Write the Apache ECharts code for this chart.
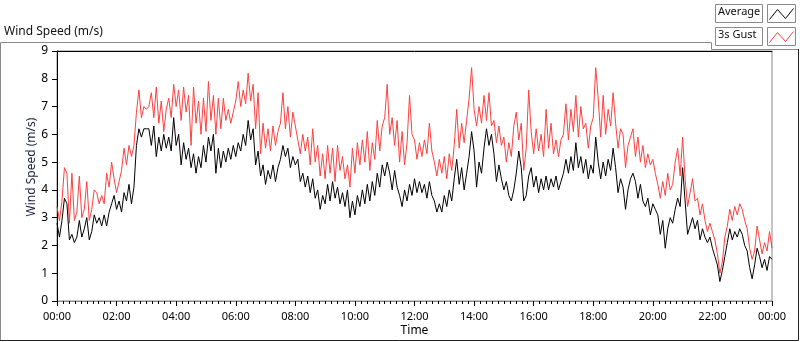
<!DOCTYPE html>
<html>
<head>
<meta charset="utf-8">
<script src="https://cdn.jsdelivr.net/npm/echarts@6/dist/echarts.min.js"></script>
<style>
html, body { margin: 0; padding: 0; background: #fff; }
#chart { width: 800px; height: 342px; }
</style>
</head>
<body>
<div id="chart"></div>
<script>
// one reading every 5 minutes, 00:00 .. 24:00
const stepMin = 5;

const average = [
    2.8, 2.3, 2.9, 3.7, 3.5, 2.2, 2.4, 2.1, 2.3, 2.9, 2.3, 2.6,
    3.0, 2.2, 2.5, 3.1, 2.8, 3.0, 2.7, 3.1, 2.7, 3.2, 3.5, 3.8,
    3.3, 3.6, 3.2, 3.9, 3.6, 4.2, 3.5, 4.1, 5.6, 6.2, 5.9, 6.2,
    6.2, 6.2, 5.6, 6.3, 5.2, 5.9, 5.4, 6.0, 5.5, 5.9, 5.4, 6.6,
    5.6, 6.0, 4.9, 5.7, 5.1, 5.5, 4.8, 5.3, 4.6, 5.2, 4.8, 5.6,
    5.0, 5.9, 5.4, 6.0, 4.6, 5.5, 4.8, 5.4, 5.0, 5.5, 5.1, 5.6,
    5.2, 5.7, 5.4, 6.0, 5.6, 6.5, 5.8, 6.2, 4.9, 5.4, 4.5, 4.9,
    4.2, 4.7, 4.4, 4.9, 4.3, 4.8, 5.1, 5.6, 5.2, 5.5, 4.8, 5.2,
    4.9, 5.1, 4.3, 4.6, 4.1, 4.5, 3.9, 4.4, 3.7, 4.0, 3.3, 3.8,
    3.5, 4.2, 3.6, 4.3, 3.7, 4.1, 3.5, 3.9, 3.4, 4.0, 3.0, 3.6,
    3.1, 3.8, 3.4, 4.0, 3.5, 4.2, 3.6, 4.3, 3.8, 4.6, 4.1, 4.9,
    4.5, 5.0, 4.6, 4.0, 4.7, 4.1, 3.8, 3.4, 4.0, 3.6, 4.2, 3.8,
    4.4, 3.9, 4.3, 3.9, 4.2, 3.7, 4.3, 3.8, 3.6, 3.2, 3.5, 3.2,
    3.8, 3.4, 4.0, 3.6, 4.4, 5.1, 4.2, 4.8, 4.0, 4.6, 5.2, 6.1,
    5.4, 4.1, 5.0, 4.6, 5.5, 6.2, 5.6, 6.0, 5.3, 4.3, 4.9, 4.4,
    4.0, 4.3, 3.8, 3.6, 4.0, 4.6, 5.4, 4.8, 3.6, 3.8, 4.5, 4.8,
    4.1, 4.5, 3.9, 4.4, 4.0, 4.5, 4.0, 4.4, 4.1, 4.5, 4.0, 4.3,
    4.6, 5.1, 4.6, 5.2, 4.7, 5.7, 4.8, 5.2, 4.6, 5.1, 4.4, 4.9,
    4.6, 5.9, 5.0, 4.4, 5.0, 4.5, 5.1, 4.7, 5.5, 4.8, 3.9, 4.4,
    4.1, 3.3, 4.0, 4.4, 4.6, 4.3, 3.7, 4.2, 3.6, 3.4, 3.7, 3.1,
    3.5, 3.3, 3.1, 2.4, 2.9, 1.9, 2.6, 3.0, 2.8, 3.3, 3.7, 3.4,
    4.8, 3.6, 2.4, 2.7, 3.0, 2.6, 2.9, 2.2, 2.6, 2.3, 2.1, 2.3,
    1.9, 1.6, 1.3, 0.7, 1.1, 1.6, 2.1, 2.6, 2.2, 2.5, 2.3, 2.6,
    2.4, 2.0, 1.8, 1.2, 0.8, 1.3, 1.9, 1.6, 1.2, 1.5, 1.1, 1.6,
    1.5
];

const gust = [
    3.4, 2.9, 3.6, 4.8, 4.6, 2.8, 4.6, 2.9, 3.2, 4.5, 3.0, 3.3,
    4.3, 2.9, 3.3, 4.0, 3.9, 3.5, 3.8, 3.5, 4.6, 4.1, 5.0, 4.4,
    3.9, 4.3, 4.7, 5.5, 4.9, 5.6, 5.2, 5.6, 6.8, 7.6, 6.6, 7.0,
    6.9, 7.0, 7.5, 6.6, 7.7, 6.4, 7.2, 6.1, 6.9, 7.3, 6.6, 7.8,
    7.0, 7.6, 6.5, 7.7, 6.8, 7.4, 5.6, 7.7, 6.4, 7.2, 6.0, 7.3,
    6.1, 7.9, 6.5, 7.4, 6.0, 7.3, 6.2, 7.3, 6.5, 6.9, 6.4, 6.8,
    7.2, 7.9, 7.0, 7.6, 7.1, 8.2, 7.2, 7.8, 6.2, 7.5, 5.3, 6.4,
    5.5, 6.2, 5.4, 6.3, 5.6, 6.1, 6.4, 7.5, 6.2, 7.0, 5.9, 6.8,
    6.3, 5.8, 5.3, 6.0, 5.4, 5.9, 4.9, 6.2, 5.0, 5.6, 4.5, 5.3,
    4.4, 5.6, 4.6, 5.5, 4.3, 5.6, 4.7, 5.2, 4.4, 4.9, 4.1, 5.5,
    4.6, 5.7, 4.9, 5.8, 5.0, 6.1, 4.7, 5.7, 5.1, 6.5, 5.4, 6.3,
    6.6, 7.8, 6.0, 6.6, 5.6, 6.5, 5.0, 6.1, 4.9, 5.7, 7.4, 6.0,
    5.8, 5.1, 5.7, 5.2, 5.8, 5.3, 6.4, 5.4, 5.0, 4.5, 5.1, 4.6,
    5.2, 4.4, 5.3, 4.7, 5.6, 6.9, 5.5, 6.4, 5.7, 6.5, 7.3, 8.4,
    6.9, 6.3, 7.0, 6.4, 7.4, 6.5, 7.5, 6.3, 6.5, 5.7, 6.3, 5.6,
    5.9, 5.0, 5.7, 5.2, 6.3, 6.8, 5.8, 6.4, 4.7, 5.5, 7.6, 6.1,
    5.3, 6.2, 5.4, 6.0, 5.2, 6.9, 5.5, 6.4, 5.3, 5.8, 5.2, 5.8,
    6.0, 7.1, 5.8, 6.9, 6.1, 7.4, 5.9, 7.0, 6.2, 6.4, 5.5, 6.3,
    6.6, 8.4, 7.3, 5.9, 7.4, 6.0, 6.9, 6.3, 7.5, 6.4, 5.5, 6.2,
    6.0, 4.8, 5.6, 5.9, 6.2, 5.2, 5.9, 5.0, 5.6, 4.8, 5.3, 4.9,
    5.1, 4.6, 4.2, 3.7, 4.3, 3.8, 4.6, 4.0, 4.2, 5.0, 5.5, 4.5,
    5.9, 4.4, 3.4, 3.9, 4.4, 3.6, 3.7, 3.1, 3.5, 2.9, 2.5, 2.8,
    2.5, 2.2, 1.7, 1.0, 1.4, 2.3, 2.7, 3.3, 2.9, 3.4, 3.1, 3.5,
    3.3, 2.9, 2.6, 1.9, 1.5, 1.8, 2.7, 2.2, 1.7, 2.1, 1.8, 2.5,
    1.9
];

const timeLabels = ['00:00', '02:00', '04:00', '06:00', '08:00', '10:00', '12:00',
    '14:00', '16:00', '18:00', '20:00', '22:00', '00:00'];
const seriesNames = ['Average', '3s Gust'];

const font = 'Noto Sans';
const ink = '#000';

const chart = echarts.init(document.getElementById('chart'));

const toPoints = arr => arr.map((v, i) => [i * stepMin, v]);

// little zigzag swatch for the legend boxes
function swatch(x, y, color) {
    return {
        type: 'polyline',
        shape: { points: [[x + 2, y + 15], [x + 10, y + 5], [x + 18, y + 14], [x + 26, y + 4]] },
        style: { stroke: color, lineWidth: 1, fill: null },
        silent: true
    };
}

const option = {
    animation: false,
    backgroundColor: '#fff',
    grid: {
        left: 57, right: 28, top: 51, bottom: 39,
        show: true, borderColor: '#8a8a8a', borderWidth: 1
    },
    xAxis: [
        {
            type: 'value',
            min: 0,
            max: 1440,
            interval: 120,
            name: 'Time',
            nameLocation: 'middle',
            nameGap: 24,
            nameMoveOverlap: false,
            nameTextStyle: { fontFamily: font, fontSize: 12, color: ink, verticalAlign: 'top' },
            axisLine: { show: true, lineStyle: { color: '#8a8a8a', width: 1 } },
            axisTick: { show: true, length: 5, lineStyle: { color: ink } },
            minorTick: { show: true, splitNumber: 10, length: 3, lineStyle: { color: ink } },
            splitLine: { show: false },
            axisLabel: {
                margin: 10,
                fontFamily: font, fontSize: 11, color: ink,
                formatter: v => timeLabels[Math.round(v / 120)]
            }
        },
        {
            // black top edge of the plot frame
            type: 'value', position: 'top', min: 0, max: 1440,
            axisLine: { show: true, lineStyle: { color: ink, width: 1 } },
            axisTick: { show: false }, axisLabel: { show: false }, splitLine: { show: false }
        }
    ],
    yAxis: {
        type: 'value',
        min: 0,
        max: 9,
        interval: 1,
        name: 'Wind Speed (m/s)',
        nameLocation: 'middle',
        nameGap: 19,
        nameRotate: 90,
        nameMoveOverlap: false,
        nameTextStyle: { fontFamily: font, fontSize: 12, color: '#1c2040', padding: [0, 0, 0, 18] },
        axisLine: { show: true, lineStyle: { color: ink, width: 1 } },
        axisTick: { show: true, length: 5, lineStyle: { color: ink } },
        splitLine: { show: false },
        axisLabel: { margin: 9, fontFamily: font, fontSize: 12, color: ink }
    },
    series: [
        {
            name: seriesNames[1],
            type: 'line',
            data: toPoints(gust),
            showSymbol: false,
            lineStyle: { color: '#ff4040', width: 1 }
        },
        {
            name: seriesNames[0],
            type: 'line',
            data: toPoints(average),
            showSymbol: false,
            lineStyle: { color: '#000', width: 1 }
        }
    ],
    graphic: [
        // outer panel frame
        {
            type: 'polyline',
            shape: { points: [[0.5, 341], [0.5, 42.5], [711.5, 42.5], [711.5, 49.5], [799, 49.5]] },
            style: { stroke: '#8a8a8a', lineWidth: 1, fill: null }, silent: true
        },
        {
            type: 'polyline',
            shape: { points: [[0, 340.5], [798.5, 340.5], [798.5, 49]] },
            style: { stroke: '#222', lineWidth: 1, fill: null }, silent: true
        },
        {
            type: 'text', left: 4, top: 26,
            style: { text: 'Wind Speed (m/s)', fontFamily: font, fontSize: 12, fill: '#111' }
        },
        // legend
        {
            type: 'rect', shape: { x: 715.5, y: 4.5, width: 47, height: 18 },
            style: { fill: '#fff', stroke: '#8a8a8a', lineWidth: 1 }, silent: true
        },
        {
            type: 'text', left: 718, top: 6,
            style: { text: seriesNames[0], fontFamily: font, fontSize: 11, fill: '#111' }
        },
        {
            type: 'rect', shape: { x: 767.5, y: 4.5, width: 28, height: 18 },
            style: { fill: '#fff', stroke: '#8a8a8a', lineWidth: 1 }, silent: true
        },
        swatch(767.5, 4.5, '#000'),
        {
            type: 'rect', shape: { x: 715.5, y: 27.5, width: 47, height: 18 },
            style: { fill: '#fff', stroke: '#8a8a8a', lineWidth: 1 }, silent: true
        },
        {
            type: 'text', left: 718, top: 29,
            style: { text: seriesNames[1], fontFamily: font, fontSize: 11, fill: '#111' }
        },
        {
            type: 'rect', shape: { x: 767.5, y: 27.5, width: 28, height: 18 },
            style: { fill: '#fff', stroke: '#8a8a8a', lineWidth: 1 }, silent: true
        },
        swatch(767.5, 27.5, '#ff4040')
    ]
};

chart.setOption(option);
</script>
</body>
</html>
